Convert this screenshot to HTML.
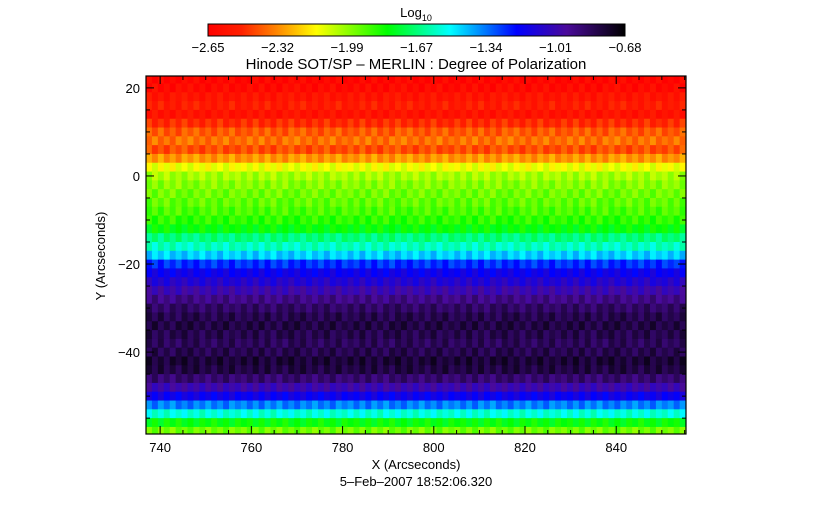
<!DOCTYPE html>
<html><head><meta charset="utf-8"><style>
body{margin:0;background:#fff;width:832px;height:512px;overflow:hidden;font-family:"Liberation Sans",sans-serif}
</style></head><body>
<svg id="chart" width="832" height="512" xmlns="http://www.w3.org/2000/svg" font-family="Liberation Sans, sans-serif" font-size="13">
<defs>
<linearGradient id="cmap" x1="0" x2="1" y1="0" y2="0">
<stop offset="0" stop-color="#ff0000"/><stop offset="0.08" stop-color="#ff2000"/><stop offset="0.16" stop-color="#ff8000"/><stop offset="0.26" stop-color="#ffff00"/><stop offset="0.43" stop-color="#00ff00"/><stop offset="0.58" stop-color="#00ffff"/><stop offset="0.74" stop-color="#0000ff"/><stop offset="0.86" stop-color="#4a0a9a"/><stop offset="1" stop-color="#000000"/>
</linearGradient>
<clipPath id="pc"><rect x="146" y="76" width="540" height="358"/></clipPath>
</defs>
<text x="416" y="17" text-anchor="middle">Log<tspan font-size="9" dy="4">10</tspan></text>
<rect x="208" y="24" width="417" height="12" fill="url(#cmap)" stroke="#000" stroke-width="1"/>
<g id="cbticks"></g>
<text x="416" y="69" text-anchor="middle" font-size="15">Hinode SOT/SP – MERLIN : Degree of Polarization</text>
<g id="heat" clip-path="url(#pc)"></g>
<rect x="146" y="76" width="540" height="358" fill="none" stroke="#000" stroke-width="1.2"/>
<g id="axes"></g>
<text x="416" y="469" text-anchor="middle">X (Arcseconds)</text>
<text x="416" y="486" text-anchor="middle">5–Feb–2007 18:52:06.320</text>
<text x="105" y="256" text-anchor="middle" transform="rotate(-90 105 256)">Y (Arcseconds)</text>
</svg>
<script>
const cbLabels=["-2.65","-2.32","-1.99","-1.67","-1.34","-1.01","-0.68"];
const xTicks=[740,760,780,800,820,840];
const yTicks=[20,0,-20,-40];
const rowY=[22,20,18,16,14,12,10,8,6,4,2,0,-2,-4,-6,-8,-10,-12,-14,-16,-18,-20,-22,-24,-26,-28,-30,-32,-34,-36,-38,-40,-42,-44,-46,-48,-50,-52,-54,-56,-58];
const rowVal=[-2.62,-2.6,-2.55,-2.52,-2.56,-2.48,-2.4,-2.36,-2.42,-2.3,-2.12,-2.02,-1.98,-1.95,-1.93,-1.9,-1.86,-1.8,-1.66,-1.58,-1.45,-1.25,-1.15,-1.08,-1.0,-0.92,-0.86,-0.82,-0.8,-0.82,-0.84,-0.82,-0.78,-0.8,-0.88,-1.0,-1.15,-1.35,-1.55,-1.8,-1.95];
const colOff=[0.04,-0.03,0.05,-0.04,0.02,-0.05,0.04,-0.01,0.05,-0.03,0.02,-0.05,0.03,-0.02,0.05,-0.04,0.01,-0.03];
const NS="http://www.w3.org/2000/svg";
const x0=736.9,x1=855.3,y0=22.7,y1=-58.6,L=146,R=686,T=76,B=434;
const xs=v=>L+(v-x0)/(x1-x0)*(R-L);
const ys=v=>T+(v-y0)/(y1-y0)*(B-T);
const stops=[[0,[255,0,0]],[0.08,[255,32,0]],[0.16,[255,128,0]],[0.26,[255,255,0]],[0.43,[0,255,0]],[0.58,[0,255,255]],[0.74,[0,0,255]],[0.86,[74,10,154]],[1,[0,0,0]]];
function cmap(v){let t=(v+2.65)/(1.97);t=Math.max(0,Math.min(1,t));
for(let i=1;i<stops.length;i++){if(t<=stops[i][0]){const a=stops[i-1],b=stops[i],f=(t-a[0])/(b[0]-a[0]);
return 'rgb('+a[1].map((c,k)=>Math.round(c+(b[1][k]-c)*f)).join(',')+')';}}return '#000';}
function el(tag,attrs,parent){const e=document.createElementNS(NS,tag);for(const k in attrs)e.setAttribute(k,attrs[k]);parent.appendChild(e);return e;}
const heat=document.getElementById('heat');
const cw=1.3;
for(let r=0;r<rowY.length;r++){
  for(let c=0,x=x0;x<x1;c++,x+=cw){
    const v=rowVal[r]+colOff[(c+(r%3))%colOff.length];
    const rc=el('rect',{x:xs(x),y:ys(rowY[r]+1),width:xs(x+cw)-xs(x)+0.6,height:ys(rowY[r]-1)-ys(rowY[r]+1)+0.6,fill:cmap(v)},heat);
    
    
  }
}
const ax=document.getElementById('axes');
for(let v=740;v<=855;v+=5){const X=xs(v),big=v%20===0,len=big?8:4;
  el('line',{x1:X,x2:X,y1:B,y2:B-len,stroke:'#000'},ax);el('line',{x1:X,x2:X,y1:T,y2:T+len,stroke:'#000'},ax);}
for(let v=20;v>=-55;v-=5){const Y=ys(v),big=v%20===0,len=big?8:4;
  el('line',{x1:L,x2:L+len,y1:Y,y2:Y,stroke:'#000'},ax);el('line',{x1:R,x2:R-len,y1:Y,y2:Y,stroke:'#000'},ax);}
xTicks.forEach(v=>{const t=el('text',{x:xs(v),y:452,'text-anchor':'middle'},ax);t.textContent=v;
  });
yTicks.forEach(v=>{const t=el('text',{x:140,y:ys(v)+5,'text-anchor':'end'},ax);t.textContent=v===0?'0':'\u2212'.repeat(v<0?1:0)+Math.abs(v);
  });
const cb=document.getElementById('cbticks');
cbLabels.forEach((s,i)=>{const X=208+i*417/6;
  const t=el('text',{x:X,y:52,'text-anchor':'middle'},cb);t.textContent=s.replace('-','\u2212');
  });
</script>
</body></html>
